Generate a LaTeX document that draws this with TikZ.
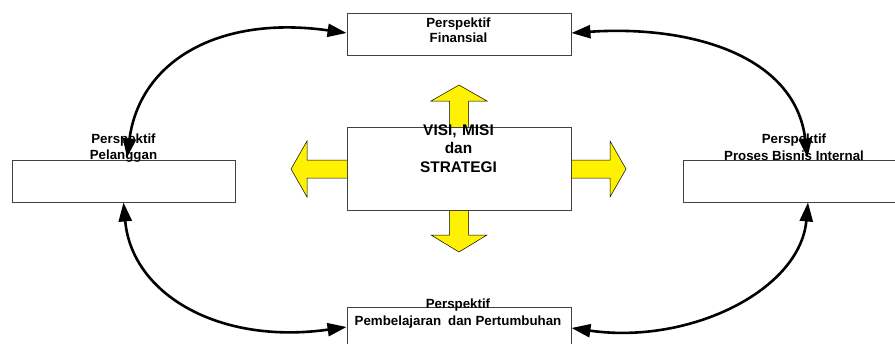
\documentclass[tikz,border=0pt]{standalone}
\usepackage{fontspec}
\setmainfont{Liberation Sans}
\usetikzlibrary{arrows.meta}
\begin{document}
\begin{tikzpicture}[x=1pt,y=-1pt,
  box/.style={draw=black!75,line width=0.9pt,rectangle,inner sep=0pt},
  lbl/.style={anchor=base,inner sep=0pt,font=\bfseries\fontsize{13.3}{16}\selectfont},
  big/.style={anchor=base,inner sep=0pt,font=\bfseries\fontsize{15.4}{18}\selectfont},
  yarrow/.style={fill=yellow,draw=black,line width=0.5pt,line join=miter},
  link/.style={line width=2.6pt,{Triangle[length=19pt,width=13pt]}-{Triangle[length=19pt,width=13pt]}}]
\useasboundingbox (0,0) rectangle (895,343);
\clip (0,0) rectangle (895,343);
% yellow block arrows
\draw[yarrow] (449.5,127) -- (449.5,101) -- (431,101) -- (459,85) -- (487,101) -- (468.5,101) -- (468.5,127);
\draw[yarrow] (449.5,210) -- (449.5,235) -- (431,235) -- (459,252) -- (487,235) -- (468.5,235) -- (468.5,210);
\draw[yarrow] (347,160) -- (307,160) -- (307,141) -- (291,169) -- (307,197) -- (307,178) -- (347,178);
\draw[yarrow] (571,160) -- (610,160) -- (610,141) -- (626,169) -- (610,197) -- (610,178) -- (571,178);
% boxes
\node[box,minimum width=224pt,minimum height=42pt] (fin) at (459,34) {};
\node[box,minimum width=224pt,minimum height=83pt] (vis) at (459,168.5) {};
\node[box,minimum width=223pt,minimum height=42pt] (pel) at (123.5,181) {};
\node[box,minimum width=223pt,minimum height=42pt] (pro) at (794.5,181) {};
\node[box,minimum width=224pt,minimum height=42pt] (pem) at (459,328) {};
% texts
\node[lbl] (finA) at (458.5,27) {Perspektif};
\node[lbl] (finB) at (458.5,42) {Finansial};
\node[big] (visA) at (458.5,135) {VISI,\hspace{5.5pt}MISI};
\node[big] (visB) at (458.5,153) {dan};
\node[big] (visC) at (458.5,172) {STRATEGI};
\node[lbl] (pelA) at (123.5,143) {Perspektif};
\node[lbl] (pelB) at (123.5,159) {Pelanggan};
\node[lbl] (proA) at (794,143) {Perspektif};
\node[lbl] (proB) at (794,160) {Proses Bisnis Internal};
\node[lbl] (pemA) at (458,308) {Perspektif};
\node[lbl] (pemB) at (458,325) {Pembelajaran\hspace{7pt}dan Pertumbuhan};
% curved double arrows
\draw[link] ([xshift=3.5pt,yshift=2pt]pel.north) .. controls (140,60) and (220,15) .. ([yshift=1pt]fin.west);
\draw[link] ([yshift=1pt]fin.east) .. controls (690,25) and (795,55) .. ([xshift=13pt,yshift=2pt]pro.north);
\draw[link] (pel.south) .. controls (132,295) and (220,345) .. ([yshift=1pt]pem.west);
\draw[link] (pem.east) .. controls (690,345) and (800,290) .. ([xshift=13.5pt]pro.south);
\end{tikzpicture}
\end{document}
